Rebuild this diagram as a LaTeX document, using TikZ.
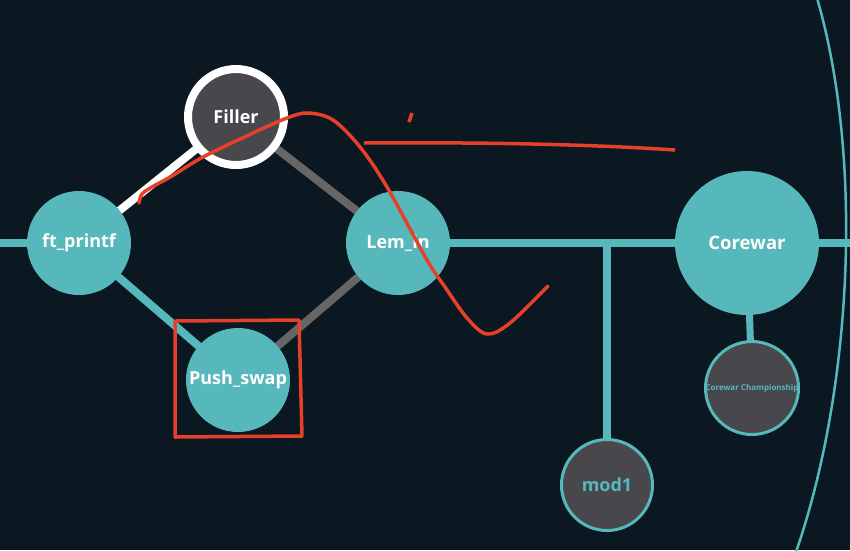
\documentclass[tikz,border=0pt]{standalone}
\usepackage{fontspec}
\setmainfont{Open Sans}
\pgfdeclarelayer{bg}
\pgfsetlayers{bg,main}
\definecolor{bgc}{HTML}{0B1821}
\definecolor{teal}{HTML}{56B8BB}
\definecolor{darkn}{HTML}{48474C}
\definecolor{grayl}{HTML}{666666}
\definecolor{redm}{HTML}{E5402A}
\begin{document}
\begin{tikzpicture}[x=1pt,y=-1pt,
  tealnode/.style={circle, fill=teal, minimum size=104pt, inner sep=0pt, text=white, font=\bfseries\fontsize{18}{20}\selectfont},
  bignode/.style={tealnode, minimum size=144pt, font=\bfseries\fontsize{18.5}{20}\selectfont},
  darknode/.style={circle, fill=darkn, draw=teal, line width=3pt, minimum size=91pt, inner sep=0pt},
  fillernode/.style={circle, fill=darkn, draw=white, line width=8pt, minimum size=96pt, inner sep=0pt, text=white, font=\bfseries\fontsize{18}{20}\selectfont},
  conn/.style={line width=8pt},
  redmark/.style={draw=redm, line width=3.5pt, line cap=round, line join=round}]
\useasboundingbox (0,0) rectangle (850,550);

\node[fillernode] (filler) at (236,117) {Filler};
\node[tealnode] (ftp) at (79,243) {ft\_printf};
\node[tealnode] (lem) at (398,243) {Lem\_in};
\node[tealnode] (push) at (238,380) {Push\_swap};
\node[bignode] (core) at (747,243) {Corewar};
\node[darknode, text=teal, font=\bfseries\fontsize{8}{9}\selectfont] (champ) at (752,388) {Corewar Championship};
\node[darknode, text=teal, font=\bfseries\fontsize{18}{20}\selectfont] (mod) at (607,485) {mod1};

\coordinate (left) at (0,243);
\coordinate (right) at (850,243);
\coordinate (junc) at (607,243);

\begin{pgfonlayer}{bg}
  \fill[bgc] (0,0) rectangle (850,550);
  \draw[conn, teal] (left) -- (ftp.center);
  \draw[conn, teal] (lem.center) -- (core.center) -- (right);
  \draw[conn, teal] (junc) -- (mod.center);
  \draw[line width=7pt, teal] (core.center) -- (champ.center);
  \draw[conn, white] (ftp.center) -- (filler.center);
  \draw[conn, grayl] (filler.center) -- (lem.center);
  \draw[conn, teal] (ftp.center) -- (push.center);
  \draw[conn, grayl] (push.center) -- (lem.center);
\end{pgfonlayer}

% outer arc
\draw[teal, line width=2.5pt] (817,-2) .. controls (864,160) and (852,390) .. (796,552);

% red annotations
\draw[redmark, line cap=butt] (175,321) -- (299,320) -- (302,436) -- (175,437) -- cycle;
\draw[redmark] plot[smooth, tension=0.55] coordinates {(139,203) (142,194) (152,187) (172,176) (203,157) (253,133) (287,118) (308,113) (333,120) (360,147) (387,187) (427,260) (445,287) (467,318) (487,334) (510,323) (548,286)};
\draw[redmark, line cap=butt] (412,113) -- (409,122);
\draw[redmark, line cap=butt] (364,143) .. controls (500,142) and (600,145) .. (675,150);
\end{tikzpicture}
\end{document}
